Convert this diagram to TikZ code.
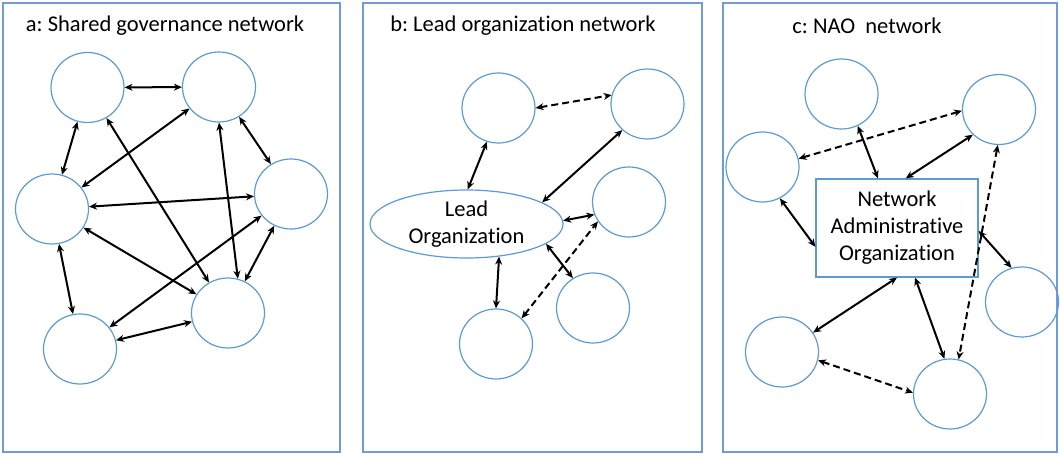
\documentclass[tikz,border=0pt]{standalone}
\usepackage{fontspec}
\setmainfont[Ligatures=NoCommon]{Carlito}
\frenchspacing
\usepackage{tikz}
\usetikzlibrary{arrows.meta,shapes.geometric}
\definecolor{ring}{HTML}{5B9BD5}
\definecolor{frame}{HTML}{6F9BD8}
\tikzset{
  panel/.style={draw=frame, line width=1.3pt},
  member/.style={ellipse, draw=ring, line width=1.2pt, minimum width=73pt, minimum height=70pt, inner sep=0pt},
  leadorg/.style={ellipse, draw=ring, line width=1.2pt, minimum width=193pt, minimum height=68pt, inner sep=0pt},
  admin/.style={rectangle, draw=ring, line width=1.2pt, minimum width=162pt, minimum height=98pt, inner sep=0pt},
  link/.style={draw=black, line width=2pt, {Stealth[length=8pt,width=7pt]}-{Stealth[length=8pt,width=7pt]}},
  loose/.style={link, dash pattern=on 7pt off 4pt},
  ttl/.style={font=\fontsize{22.5}{26}\selectfont},
  lab/.style={font=\fontsize{22.5}{27}\selectfont, align=center},
}

\begin{document}
\begin{tikzpicture}[x=1pt,y=-1pt]
  \useasboundingbox (0,0) rectangle (1060,454);
  % frames
  \draw[panel] (3,3) rectangle (340,452);
  \draw[panel] (363,3) rectangle (702,452);
  \draw[panel] (723,3) rectangle (1057,452);
  \node[ttl] (ta) at (165,26) {a: Shared governance network};
  \node[ttl] (tb) at (523,26) {b: Lead organization network};
  \node[ttl] (tc) at (867,26) {c: NAO~ network};

  % a: shared governance
  \node[member] (a1) at (87.5,87.5) {};
  \node[member] (a2) at (219,87) {};
  \node[member] (a3) at (52,209) {};
  \node[member] (a4) at (291,194) {};
  \node[member] (a5) at (228,313) {};
  \node[member] (a6) at (80,349) {};
  \draw[link] (a1) -- (a2);
  \draw[link] (a1) -- (a3);
  \draw[link] (a1) -- (a5);
  \draw[link] (a2) -- (a3);
  \draw[link] (a2) -- (a4);
  \draw[link] (a2.-90) -- (a5.74);
  \draw[link] (a3) -- (a4);
  \draw[link] (a3) -- (a5);
  \draw[link] (a3) -- (a6);
  \draw[link] (a4) -- (a6);
  \draw[link] (a4) -- (a5);
  \draw[link] (a5) -- (a6);

  % b: lead organization
  \node[member] (b1) at (498.5,108) {};
  \node[member] (b2) at (647.5,104) {};
  \node[member] (b3) at (629,202) {};
  \node[member] (b4) at (593,308) {};
  \node[member] (b5) at (496,344) {};
  \node[leadorg,lab] (lead) at (466.5,224) {Lead\\Organization};
  \draw[loose] (b1.east) -- (b2.166);
  \draw[link] (b1.-109) -- (lead.88);
  \draw[link] (b2.226) -- (lead.16);
  \draw[link] (b3.200) -- (lead.2);
  \draw[link] (b4.124) -- (lead.-14);
  \draw[link] (b5.north) -- (lead.-45);
  \draw[loose] (b5.45) -- (b3.212);

  % c: network administrative organization
  \node[member] (c1) at (841.5,94) {};
  \node[member] (c2) at (999,109.5) {};
  \node[member] (c3) at (762.5,167) {};
  \node[member] (c4) at (1022,302) {};
  \node[member] (c5) at (782,352) {};
  \node[member] (c6) at (950,394) {};
  \node[admin,lab] (nao) at (897,228) {Network\\Administrative\\Organization};
  \draw[link] (c1.-63) -- (nao.111);
  \draw[loose] (c3.13) -- (c2.182);
  \draw[link] (c2.224) -- (nao.80);
  \draw[link] (c3.-61) -- (nao.193);
  \draw[loose] (c2.268) -- (c6.76);
  \draw[link] (nao.-2) -- (c4.107);
  \draw[link] (nao.south) -- (c5.32);
  \draw[link] (nao.-70) -- (c6.99);
  \draw[loose] (c5.-13) -- (c6.178);
\end{tikzpicture}
\end{document}
